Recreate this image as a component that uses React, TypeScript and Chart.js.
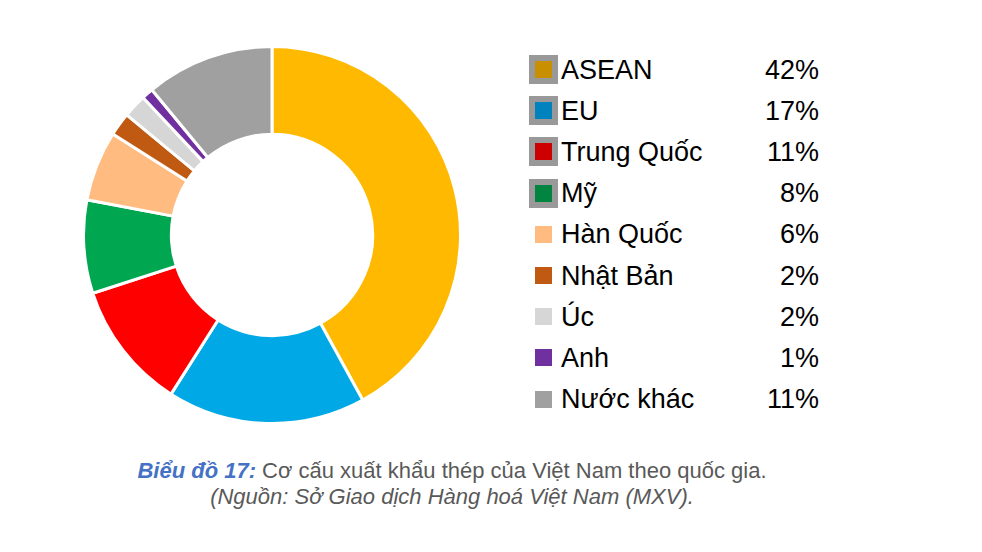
import React, { useEffect, useRef } from "react";
import { Chart, registerables } from "chart.js";

Chart.register(...registerables);

const categories = ["ASEAN", "EU", "Trung Quốc", "Mỹ", "Hàn Quốc", "Nhật Bản", "Úc", "Anh", "Nước khác"];
const shares = [42, 17, 11, 8, 6, 2, 2, 1, 11];
const shareLabels = ["42%", "17%", "11%", "8%", "6%", "2%", "2%", "1%", "11%"];
const sliceColors = ["#FFB900", "#00A9E6", "#FF0000", "#00A650", "#FFBB80", "#C05A12", "#D6D6D6", "#7030A0", "#A0A0A0"];
const legendColors = ["#C88F00", "#0082BE", "#CC0000", "#00843F", "#FFBB80", "#C05A12", "#D6D6D6", "#7030A0", "#A0A0A0"];
const legendFramed = [true, true, true, true, false, false, false, false, false];

const captionTitle = "Biểu đồ 17:";
const captionText = " Cơ cấu xuất khẩu thép của Việt Nam theo quốc gia.";
const captionSource = "(Nguồn: Sở Giao dịch Hàng hoá Việt Nam (MXV).";

const FONT = '"Liberation Sans", Arial, sans-serif';

export default function App() {
  const canvasRef = useRef<HTMLCanvasElement | null>(null);

  useEffect(() => {
    if (!canvasRef.current) return;
    const chart = new Chart(canvasRef.current, {
      type: "doughnut",
      data: {
        labels: categories,
        datasets: [
          {
            data: shares,
            backgroundColor: sliceColors,
            borderColor: "#FFFFFF",
            borderWidth: 3,
          },
        ],
      },
      options: {
        responsive: false,
        animation: false,
        cutout: "53.4%",
        layout: { padding: 0 },
        plugins: {
          legend: { display: false },
          tooltip: { enabled: false },
          title: { display: false },
        },
      },
    });
    return () => chart.destroy();
  }, []);

  return (
    <div
      style={{
        position: "absolute",
        left: 0,
        top: 0,
        width: 982,
        height: 552,
        background: "#FFFFFF",
        fontFamily: FONT,
        overflow: "hidden",
      }}
    >
      <canvas
        ref={canvasRef}
        width={380}
        height={380}
        style={{ position: "absolute", left: 82, top: 45, width: 380, height: 380 }}
      />
      <div style={{ position: "absolute", left: 529, top: 49, width: 290 }}>
        {categories.map((c, i) => (
          <div
            key={c}
            style={{
              position: "relative",
              height: 41.2,
              display: "flex",
              alignItems: "center",
            }}
          >
            <div
              style={{
                width: 29,
                height: 29,
                boxSizing: "border-box",
                border: legendFramed[i] ? "6px solid #999999" : "6px solid transparent",
                flex: "0 0 auto",
              }}
            >
              <div style={{ width: 17, height: 17, background: legendColors[i] }} />
            </div>
            <span
              style={{
                marginLeft: 3,
                fontSize: 27,
                color: "#000000",
                whiteSpace: "nowrap",
                lineHeight: "30px",
              }}
            >
              {c}
            </span>
            <span
              style={{
                position: "absolute",
                right: 0,
                fontSize: 27,
                color: "#000000",
                lineHeight: "30px",
              }}
            >
              {shareLabels[i]}
            </span>
          </div>
        ))}
      </div>
      <div
        style={{
          position: "absolute",
          left: 0,
          width: 904,
          top: 458,
          textAlign: "center",
          fontSize: 22,
          lineHeight: "26px",
          color: "#595959",
        }}
      >
        <div style={{ whiteSpace: "nowrap" }}>
          <span style={{ color: "#4472C4", fontWeight: "bold", fontStyle: "italic" }}>{captionTitle}</span>
          <span>{captionText}</span>
        </div>
        <div style={{ whiteSpace: "nowrap", fontStyle: "italic" }}>{captionSource}</div>
      </div>
    </div>
  );
}
